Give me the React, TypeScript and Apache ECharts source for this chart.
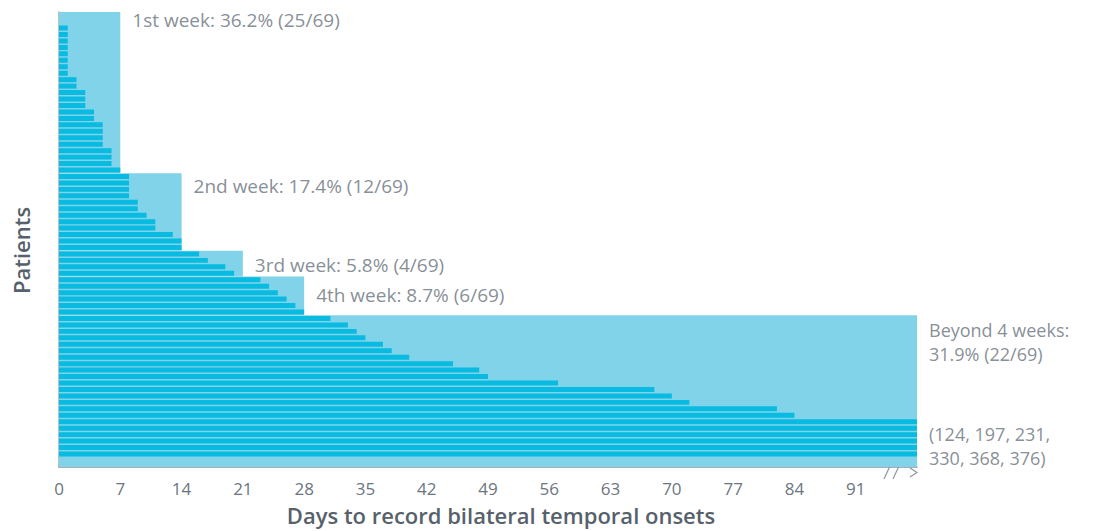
import React, { useEffect, useRef } from "react";
import * as echarts from "echarts";

// Days to record bilateral temporal onsets, one value per patient (sorted)
const patientDays: number[] = [
  0, 0, 1, 1, 1, 1, 1, 1, 1, 1, 2, 2, 3, 3, 3, 4, 4, 5, 5, 5, 5, 6, 6, 6, 7,
  8, 8, 8, 8, 9, 9, 10, 11, 11, 13, 14, 14,
  16, 17, 19, 20,
  23, 24, 25, 26, 27, 28,
  31, 33, 34, 35, 37, 38, 40, 45, 48, 49, 57, 68, 70, 72, 82, 84,
  124, 197, 231, 330, 368, 376,
];

const groupNames = ["1st week", "2nd week", "3rd week", "4th week", "Beyond 4 weeks"];
const groupEndDay = [7, 14, 21, 28, 98];
const groupCounts = [25, 12, 4, 6, 22];
const xTickLabels = ["0", "7", "14", "21", "28", "35", "42", "49", "56", "63", "70", "77", "84", "91"];

const X_MAX = 98;
const Y_MAX = 70.5;
const BAR_COLOR = "#09bbe0";
const SHADE_COLOR = "#80d3e8";
const TEXT_COLOR = "#67717b";
const FONT = "'Open Sans', sans-serif";

export default function App() {
  const ref = useRef<HTMLDivElement>(null);

  useEffect(() => {
    document.body.style.margin = "0";
    if (!ref.current) return;
    const chart = echarts.init(ref.current, null, { renderer: "svg" });
    const total = patientDays.length;

    // shaded group areas: [startIndex, endIndex, endDay]
    const shades: number[][] = [];
    let start = 0;
    groupCounts.forEach((c, g) => {
      const end = g === groupCounts.length - 1 ? Y_MAX : start + c;
      shades.push([start, end, groupEndDay[g]]);
      start += c;
    });

    const pct = (c: number) => ((c / total) * 100).toFixed(1);
    const beyond = patientDays.filter((d) => d > X_MAX);
    const labelTexts = [
      ...groupNames.slice(0, 4).map((n, g) => `${n}: ${pct(groupCounts[g])}% (${groupCounts[g]}/${total})`),
      `${groupNames[4]}:`,
      `${pct(groupCounts[4])}% (${groupCounts[4]}/${total})`,
      `(${beyond.slice(0, 3).join(", ")},`,
      `${beyond.slice(3).join(", ")})`,
    ];
    const labelAnchorX = [7, 14, 21, 28, X_MAX, X_MAX, X_MAX, X_MAX];
    const labelAnchorY = [1.25, 26.9, 39.2, 43.8, 49.3, 53.0, 65.35, 69.05];
    const labelSize = [19, 19, 19, 19, 18, 18, 18, 18];

    chart.setOption({
      animation: false,
      grid: { left: 59, top: 12, right: 187, bottom: 58 },
      xAxis: {
        type: "value",
        min: 0,
        max: X_MAX,
        interval: 7,
        name: "Days to record bilateral temporal onsets",
        nameLocation: "middle",
        nameGap: 37,
        nameTextStyle: {
          fontFamily: FONT,
          fontSize: 22,
          fontWeight: 600,
          color: "#56616b",
          padding: [0, 0, 0, 26],
        },
        axisLine: { show: true, onZero: false, lineStyle: { color: "#8c969e", width: 1.5 } },
        axisTick: { show: false },
        splitLine: { show: false },
        axisLabel: {
          margin: 13,
          fontFamily: FONT,
          fontSize: 17,
          color: "#6c7680",
          formatter: (v: number) => xTickLabels[Math.round(v / 7)] ?? "",
        },
      },
      yAxis: {
        type: "value",
        inverse: true,
        min: 0,
        max: Y_MAX,
        name: "Patients",
        nameLocation: "middle",
        nameGap: 27,
        nameTextStyle: {
          fontFamily: FONT,
          fontSize: 22,
          fontWeight: 600,
          color: "#56616b",
          padding: [0, 22, 0, 0],
        },
        axisLine: { show: true, onZero: false, lineStyle: { color: "#a3aab0", width: 1.5 } },
        axisTick: { show: false },
        axisLabel: { show: false },
        splitLine: { show: false },
      },
      series: [
        {
          type: "custom",
          z: 1,
          data: shades,
          renderItem: (_p: any, api: any) => {
            const a = api.coord([0, api.value(0)]);
            const b = api.coord([api.value(2), api.value(1)]);
            return {
              type: "rect",
              shape: { x: a[0], y: a[1], width: b[0] - a[0], height: b[1] - a[1] },
              style: { fill: SHADE_COLOR },
            };
          },
        },
        {
          type: "custom",
          z: 2,
          data: patientDays.map((d, i) => [i, d]),
          renderItem: (_p: any, api: any) => {
            const i = api.value(0);
            const d = Math.min(api.value(1), X_MAX);
            const a = api.coord([0, i + 0.1]);
            const b = api.coord([d, i + 0.87]);
            return {
              type: "rect",
              shape: { x: a[0], y: a[1], width: b[0] - a[0], height: b[1] - a[1] },
              style: { fill: BAR_COLOR },
            };
          },
        },
        {
          type: "scatter",
          z: 3,
          symbolSize: 0,
          silent: true,
          data: labelTexts.map((_, k) => ({
            value: [labelAnchorX[k], labelAnchorY[k]],
            label: { fontSize: labelSize[k], lineHeight: labelSize[k] },
          })),
          label: {
            show: true,
            position: "right",
            distance: 12,
            fontFamily: FONT,
            color: TEXT_COLOR,
            formatter: (p: any) => labelTexts[p.dataIndex],
          },
        },
      ],
      graphic: [
        { type: "line", shape: { x1: 884, y1: 479, x2: 890, y2: 466 }, style: { stroke: "#8c969e", lineWidth: 1.2 } },
        { type: "line", shape: { x1: 893, y1: 479, x2: 899, y2: 466 }, style: { stroke: "#8c969e", lineWidth: 1.2 } },
        {
          type: "polyline",
          shape: { points: [[910, 468], [917, 472.5], [910, 477]] },
          style: { stroke: "#8c969e", lineWidth: 1.2, fill: "none" },
        },
      ],
    });

    return () => chart.dispose();
  }, []);

  return <div ref={ref} style={{ width: 1104, height: 531 }} />;
}
